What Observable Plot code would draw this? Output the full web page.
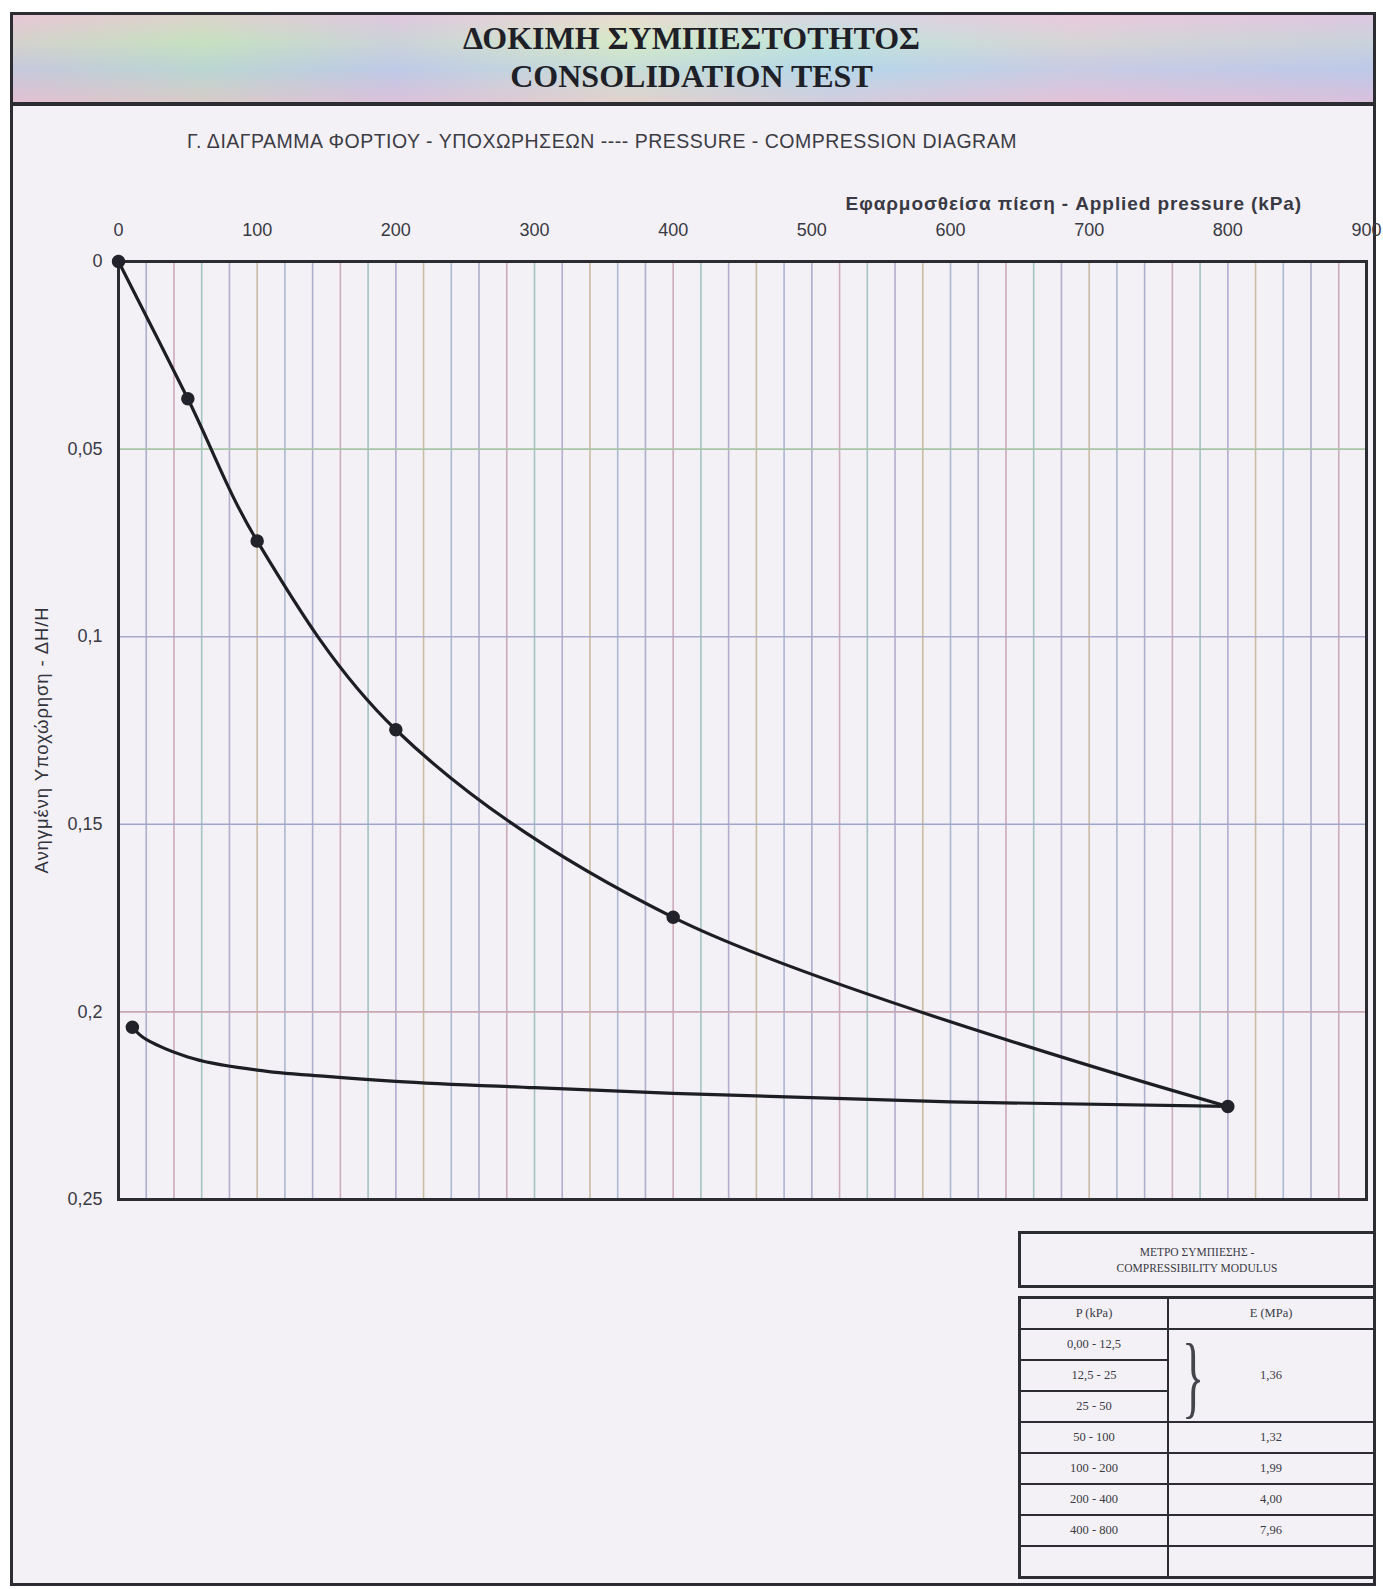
<!DOCTYPE html>
<html>
<head>
<meta charset="utf-8">
<script src="https://cdn.jsdelivr.net/npm/d3@7"></script>
<script src="https://cdn.jsdelivr.net/npm/@observablehq/plot@0.6"></script>
<style>
  html, body { margin: 0; padding: 0; background: #ffffff; }
  body { width: 1383px; height: 1589px; position: relative; overflow: hidden; font-family: "Liberation Sans", Arial, sans-serif; }
  #page { position: absolute; left: 10px; top: 12px; width: 1366px; height: 1574px; box-sizing: border-box;
          border: 3px solid #2c2c33; background: #f3f1f6; }
  #banner { position: absolute; left: 10px; top: 12px; width: 1366px; height: 94px; box-sizing: border-box;
            border: 3px solid #2c2c33; border-bottom-width: 4px;
            background:
              linear-gradient(180deg, rgba(250,205,225,0.45) 0%, rgba(205,240,205,0.35) 30%, rgba(175,210,240,0.45) 62%, rgba(235,190,215,0.5) 100%),
              linear-gradient(90deg, #d9c2cc 0%, #c3d9b9 14%, #cbc3df 28%, #dbe6c2 45%, #b9dce4 60%, #dcc6da 78%, #c8c2e2 100%); }
  .t { position: absolute; left: 0; width: 1383px; text-align: center; font-family: "Liberation Serif", "DejaVu Serif", serif;
       font-weight: bold; font-size: 32px; line-height: 36px; color: #1f1f28; }
  #sub { position: absolute; left: 187px; top: 130px; font-size: 19.5px; color: #3c3c44; letter-spacing: 0.5px; white-space: nowrap; }
  #xlab { position: absolute; right: 81px; top: 193px; font-size: 19px; font-weight: bold; color: #3a3a44; letter-spacing: 0.9px; white-space: nowrap; }
  #ylab { position: absolute; left: 42px; top: 740px; transform: translate(-50%, -50%) rotate(-90deg); font-size: 18.5px; letter-spacing: 0.9px; color: #33333c; white-space: nowrap; }
  #chart { position: absolute; left: 0; top: 150px; }
  #tbl { position: absolute; left: 1018px; top: 1231px; width: 358px; font-family: "Liberation Serif", serif; color: #3a3a44; }
  #tbl .box { border: 3px solid #2c2c33; box-sizing: border-box; }
  #tbl .ttl { height: 57px; display: flex; flex-direction: column; justify-content: center; align-items: center; font-size: 11.5px; line-height: 16px; text-align: center; }
  #tbl table { border-collapse: collapse; width: 100%; margin-top: 8px; border-top: 4px double #2c2c33; }
  #tbl td { border: 2px solid #2c2c33; height: 29px; padding: 0; text-align: center; font-size: 12.5px; }
  #tbl td.l { width: 146px; }
</style>
</head>
<body>
<div id="page"></div>
<div id="banner"></div>
<div class="t" style="top:20px">ΔΟΚΙΜΗ ΣΥΜΠΙΕΣΤΟΤΗΤΟΣ</div>
<div class="t" style="top:58px">CONSOLIDATION TEST</div>
<div id="sub">Γ. ΔΙΑΓΡΑΜΜΑ ΦΟΡΤΙΟΥ - ΥΠΟΧΩΡΗΣΕΩΝ ---- PRESSURE - COMPRESSION DIAGRAM</div>
<div id="xlab">Εφαρμοσθείσα πίεση - Applied pressure (kPa)</div>
<div id="ylab">Ανηγμένη Υποχώρηση - ΔΗ/Η</div>
<div id="chart"></div>
<div id="tbl"></div>
<script>
// ---- data ----
const loadPressure = [0, 50, 100, 200, 400, 800];           // kPa
const loadStrain   = [0, 0.0366, 0.0745, 0.1248, 0.1748, 0.2252];
const unloadPressure = [10, 15, 30, 50, 100, 150, 200, 300, 400, 600, 800];   // traced unloading curve
const unloadStrain   = [0.2041, 0.2060, 0.2092, 0.2120, 0.2155, 0.2172, 0.2185, 0.2202, 0.2217, 0.2240, 0.2252];
const unloadEndPressure = [10];
const unloadEndStrain = [0.2041];
const xTicks = [0, 100, 200, 300, 400, 500, 600, 700, 800, 900];
const yTicks = [0, 0.05, 0.1, 0.15, 0.2, 0.25];
const gridX = d3.range(20, 900, 20);
const gridY = [0.05, 0.1, 0.15, 0.2];

const tableTitle = ["ΜΕΤΡΟ ΣΥΜΠΙΕΣΗΣ -", "COMPRESSIBILITY MODULUS"];
const tableHeader = ["P (kPa)", "E (MPa)"];
const pRanges = ["0,00 - 12,5", "12,5 - 25", "25 - 50", "50 - 100", "100 - 200", "200 - 400", "400 - 800", ""];
const eValues = ["1,36", "1,32", "1,99", "4,00", "7,96", ""];   // first value spans the first three ranges

// ---- chart ----
const gridPalette = ["#a9abc9", "#c9a6b7", "#9fc0c2", "#b2a8cb", "#c8b79e", "#a6b4d0"];
const loadPts = loadPressure.map((p, i) => ({p, s: loadStrain[i]}));
const unloadPts = unloadPressure.map((p, i) => ({p, s: unloadStrain[i]}));
const endPts = unloadEndPressure.map((p, i) => ({p, s: unloadEndStrain[i]}));
const fmt = d => d === 0 ? "0" : String(d).replace(".", ",");

const chart = Plot.plot({
  width: 1383,
  height: 1070,
  marginLeft: 118,
  marginRight: 17,
  marginTop: 111,
  marginBottom: 21,
  style: {background: "transparent", fontFamily: "Liberation Sans, Arial, sans-serif", fontSize: "18px", color: "#3a3a44", overflow: "visible"},
  x: {domain: [0, 900]},
  y: {domain: [0, 0.25], reverse: true},
  marks: [
    Plot.ruleX(gridX, {x: d => d, stroke: (d, i) => gridPalette[i % gridPalette.length], strokeWidth: 1.6, strokeOpacity: 0.95}),
    Plot.ruleY(gridY, {y: d => d, stroke: (d, i) => ["#a9c4a6", "#a9a9cc", "#9fa6cc", "#c9a6b0"][i], strokeWidth: 1.6}),
    Plot.frame({stroke: "#2c2c33", strokeWidth: 3}),
    Plot.line(loadPts, {x: "p", y: "s", curve: "catmull-rom", stroke: "#1d1d24", strokeWidth: 3.2}),
    Plot.line(unloadPts, {x: "p", y: "s", curve: "monotone-x", stroke: "#1d1d24", strokeWidth: 3.2}),
    Plot.dot(loadPts, {x: "p", y: "s", r: 6, fill: "#22222a", stroke: "#22222a"}),
    Plot.dot(endPts, {x: "p", y: "s", r: 6, fill: "#22222a", stroke: "#22222a"}),
    Plot.axisX({anchor: "top", ticks: xTicks, tickSize: 0, tickPadding: 26, label: null, fill: "#3a3a44"}),
    Plot.axisY({anchor: "left", ticks: yTicks, tickSize: 0, tickPadding: 16, tickFormat: fmt, label: null, fill: "#3a3a44"})
  ]
});
document.getElementById("chart").appendChild(chart);

// ---- table ----
const tbl = document.getElementById("tbl");
const box = document.createElement("div");
box.className = "box ttl";
box.innerHTML = tableTitle.map(t => `<div>${t}</div>`).join("");
tbl.appendChild(box);
const table = document.createElement("table");
table.className = "box";
let html = `<tr><td class="l">${tableHeader[0]}</td><td>${tableHeader[1]}</td></tr>`;
pRanges.forEach((r, i) => {
  let right = "";
  if (i === 0) right = `<td rowspan="3" style="position:relative">
      <span style="position:absolute;left:2px;top:50%;transform:translate(0,-50%) scale(0.5,1);font-size:92px;font-weight:100;line-height:1;color:#44444c">}</span>
      ${eValues[0]}</td>`;
  else if (i >= 3) right = `<td>${eValues[i - 2]}</td>`;
  html += `<tr><td class="l">${r}</td>${right}</tr>`;
});
table.innerHTML = html;
tbl.appendChild(table);
</script>
</body>
</html>
